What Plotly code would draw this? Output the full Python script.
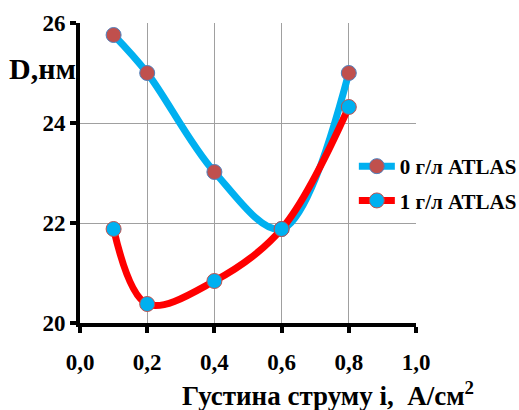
import plotly.graph_objects as go

x_vals = [0.1, 0.2, 0.4, 0.6, 0.8]
d_0gl = [25.76, 25.0, 23.02, 21.88, 25.0]
d_1gl = [21.88, 20.38, 20.84, 21.88, 24.32]
series_names = ["0 г/л ATLAS", "1 г/л ATLAS"]
x_ticks = [0.0, 0.2, 0.4, 0.6, 0.8, 1.0]
x_tick_labels = ["0,0", "0,2", "0,4", "0,6", "0,8", "1,0"]
y_ticks = [20, 22, 24, 26]
y_tick_labels = ["20", "22", "24", "26"]

FONT = "Liberation Serif"

fig = go.Figure()
fig.add_trace(go.Scatter(
    x=x_vals, y=d_0gl, name=series_names[0], mode="lines+markers",
    line=dict(color="#00B0F0", width=7, shape="spline", smoothing=1),
    marker=dict(color="#C0504D", size=15, line=dict(color="#4F81BD", width=1)),
    legendgroup="a",
))
fig.add_trace(go.Scatter(
    x=x_vals, y=d_1gl, name=series_names[1], mode="lines+markers",
    line=dict(color="#FF0000", width=7, shape="spline", smoothing=1),
    marker=dict(color="#00B0F0", size=15, line=dict(color="#C0504D", width=1)),
    legendgroup="b",
))

fig.update_layout(
    width=519, height=410,
    margin=dict(l=80, r=103, t=23, b=87, autoexpand=False),
    paper_bgcolor="white", plot_bgcolor="white",
    font=dict(family=FONT, color="black", size=20, weight="bold"),
    showlegend=True,
    legend=dict(x=0.815, y=0.59, xanchor="left", yanchor="top",
                bgcolor="rgba(0,0,0,0)", tracegroupgap=4,
                font=dict(family=FONT, size=21, weight="bold"),
                itemwidth=36, traceorder="grouped"),
    xaxis=dict(range=[0, 1], tickvals=x_ticks, ticktext=x_tick_labels,
               automargin=False,
               showgrid=True, gridcolor="#A0A0A0", gridwidth=1,
               showline=True, linecolor="black", linewidth=4,
               ticks="outside", ticklen=6, tickwidth=4, tickcolor="black",
               ticklabelstandoff=9, zeroline=False,
               tickfont=dict(family=FONT, size=23, weight="bold")),
    yaxis=dict(range=[20, 26], tickvals=y_ticks, ticktext=y_tick_labels,
               automargin=False,
               showgrid=True, gridcolor="#A0A0A0", gridwidth=1,
               showline=True, linecolor="black", linewidth=4,
               ticks="outside", ticklen=6, tickwidth=4, tickcolor="black",
               ticklabelstandoff=0, zeroline=False,
               tickfont=dict(family=FONT, size=23, weight="bold")),
)

fig.add_annotation(text="D,нм", xref="paper", yref="paper",
                   x=-0.113, y=0.85, xanchor="center", yanchor="middle",
                   showarrow=False, font=dict(family=FONT, size=30, weight="bold"))
fig.add_annotation(text="Густина струму і,  А/см<sup>2</sup>", xref="paper", yref="paper",
                   x=0.738, y=-0.237, xanchor="center", yanchor="middle",
                   showarrow=False, font=dict(family=FONT, size=27, weight="bold"))

fig.write_html("out.html", config={"displayModeBar": False})
with open("out.html", encoding="utf-8") as f:
    html = f.read()
html = html.replace("<head>", "<head><style>html,body{margin:0;padding:0;overflow:hidden}</style>", 1)
with open("out.html", "w", encoding="utf-8") as f:
    f.write(html)
